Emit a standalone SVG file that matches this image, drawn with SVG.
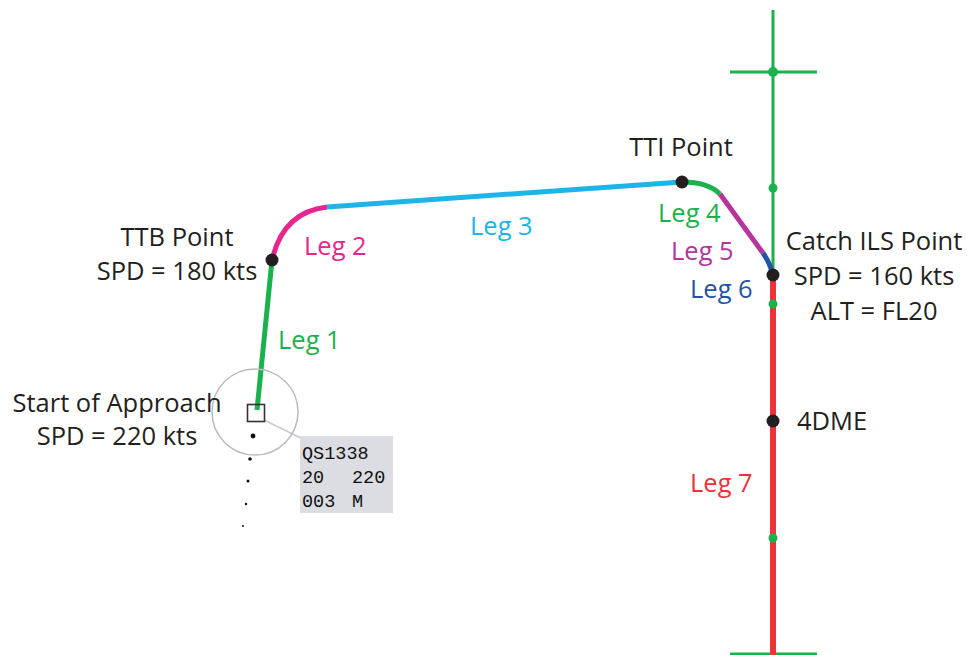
<svg xmlns="http://www.w3.org/2000/svg" width="967" height="655" viewBox="0 0 967 655">
<style>
text{font-family:"Open Sans","Liberation Sans",sans-serif;font-size:25.5px;fill:#231f20}
.lbl{text-anchor:middle}
.g{fill:#1bb14c}.p{fill:#e8258c}.c{fill:#1cb5e8}.m{fill:#b4359b}.b{fill:#2354a3}.r{fill:#ee3338}
.mono{font-family:"Liberation Mono","DejaVu Sans Mono",monospace;font-size:18.5px;fill:#111}
.leg{fill:none;stroke-width:5;stroke-linecap:butt}
.pt{fill:#231f20}
.gd{fill:#1bb14c}
</style>
<g id="ils">
<line x1="773" y1="10" x2="773" y2="655" stroke="#1bb14c" stroke-width="3"/>
<line x1="730" y1="72" x2="817" y2="72" stroke="#1bb14c" stroke-width="3"/>
<line x1="730" y1="654" x2="817" y2="654" stroke="#1bb14c" stroke-width="3"/>
<circle class="gd" cx="773" cy="72" r="5"/>
<circle class="gd" cx="773" cy="188" r="4.5"/>
</g>
<g id="connectors">
<path id="leg1" class="leg" stroke="#1bb14c" d="M257 410 L272 260"/>
<path id="leg2" class="leg" stroke="#e8258c" d="M272 260 Q283 212 327 207"/>
<path id="leg3" class="leg" stroke="#1cb5e8" d="M327 207 L682 182"/>
<path id="leg4" class="leg" stroke="#1bb14c" d="M682 182 Q708 182 720 194"/>
<path id="leg5" class="leg" stroke="#b4359b" d="M720 194 L763 253"/>
<path id="leg6" class="leg" stroke="#2354a3" d="M763 253 Q770 263 773 275"/>
<path id="leg7" stroke="#ee3338" stroke-width="6" d="M773 275 L773 655"/>
<line x1="264" y1="420" x2="307" y2="441" stroke="#c8c9cc" stroke-width="1.5"/>
</g>
<g id="ils-dots">
<circle class="gd" cx="773" cy="304" r="4.5"/>
<circle class="gd" cx="773" cy="538" r="4.5"/>
</g>
<g id="start">
<circle cx="255" cy="412" r="43" fill="none" stroke="#b8bcc2" stroke-width="1.5"/>
<rect x="247.5" y="404.5" width="17" height="17" fill="none" stroke="#333" stroke-width="1.6"/>
<circle cx="253" cy="436" r="2.4" fill="#111"/>
<circle cx="250" cy="459" r="1.8" fill="#111"/>
<circle cx="248" cy="481" r="1.5" fill="#111"/>
<circle cx="246" cy="504" r="1.2" fill="#111"/>
<circle cx="243" cy="526" r="1" fill="#111"/>
<text class="lbl" x="117" y="412">Start of Approach</text>
<text class="lbl" x="117" y="445">SPD = 220 kts</text>
</g>
<g id="datablock">
<rect x="300" y="436" width="93" height="77" fill="#dcdde3"/>
<text class="mono" x="302" y="459">QS1338</text>
<text class="mono" x="302" y="483">20</text>
<text class="mono" x="352" y="483">220</text>
<text class="mono" x="302" y="507">003</text>
<text class="mono" x="352" y="507">M</text>
</g>
<g id="ttb">
<circle class="pt" cx="272" cy="260" r="6.5"/>
<text class="lbl" x="177" y="246">TTB Point</text>
<text class="lbl" x="177" y="280">SPD = 180 kts</text>
</g>
<g id="tti">
<circle class="pt" cx="682" cy="182" r="6.5"/>
<text class="lbl" x="681" y="156">TTI Point</text>
</g>
<g id="catch">
<circle class="pt" cx="773" cy="275" r="6.5"/>
<text class="lbl" x="874" y="250">Catch ILS Point</text>
<text class="lbl" x="874" y="285">SPD = 160 kts</text>
<text class="lbl" x="874" y="320">ALT = FL20</text>
</g>
<g id="dme">
<circle class="pt" cx="773" cy="421" r="6.5"/>
<text x="797" y="430">4DME</text>
</g>
<g id="leg-labels">
<text class="g" x="278" y="349">Leg 1</text>
<text class="p" x="304" y="255">Leg 2</text>
<text class="c" x="470" y="235">Leg 3</text>
<text class="g" x="658" y="222">Leg 4</text>
<text class="m" x="671" y="260">Leg 5</text>
<text class="b" x="690" y="298">Leg 6</text>
<text class="r" x="690" y="492">Leg 7</text>
</g>
</svg>
